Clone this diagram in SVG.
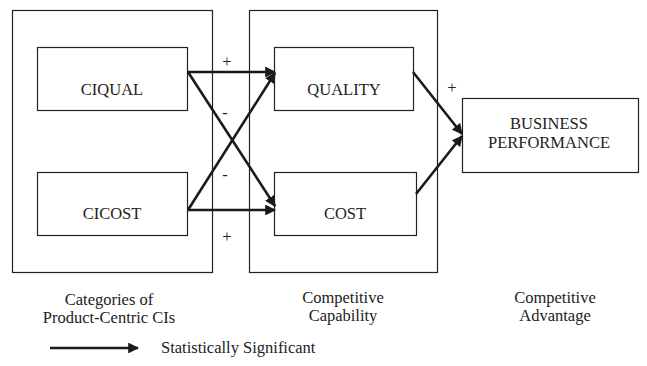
<svg xmlns="http://www.w3.org/2000/svg" width="647" height="366" viewBox="0 0 647 366">
<style>
.box{fill:none;stroke:#222;stroke-width:1.2}
.t{font-family:'Liberation Serif','Times New Roman','DejaVu Serif',serif;font-size:16.5px;fill:#222;text-anchor:middle}
.c{stroke:#1a1a1a;stroke-width:2.6;fill:none;marker-end:url(#ah)}
</style>
<defs>
<marker id="ah" viewBox="0 0 10 10" refX="9" refY="5" markerWidth="4.2" markerHeight="4.2" markerUnits="strokeWidth" orient="auto">
<path d="M0,0 L10,5 L0,10 z" fill="#1a1a1a"/>
</marker>
</defs>
<rect width="647" height="366" fill="#fff"/>
<g id="group-categories">
<rect class="box" x="12.5" y="10.5" width="200" height="262"/>
<text class="t" x="109" y="305">Categories of</text>
<text class="t" x="109" y="323">Product-Centric CIs</text>
</g>
<g id="group-capability">
<rect class="box" x="249.5" y="10.5" width="188" height="262"/>
<text class="t" x="343" y="303">Competitive</text>
<text class="t" x="343" y="321">Capability</text>
</g>
<g id="group-advantage">
<text class="t" x="555" y="303">Competitive</text>
<text class="t" x="555" y="321">Advantage</text>
</g>
<g id="ciqual">
<rect class="box" x="37.5" y="47.5" width="150" height="63"/>
<text class="t" x="112" y="95">CIQUAL</text>
</g>
<g id="cicost">
<rect class="box" x="37.5" y="172.5" width="150" height="63"/>
<text class="t" x="112" y="219">CICOST</text>
</g>
<g id="quality">
<rect class="box" x="274.5" y="47.5" width="139" height="63"/>
<text class="t" x="344" y="95">QUALITY</text>
</g>
<g id="cost">
<rect class="box" x="274.5" y="172.5" width="142" height="63"/>
<text class="t" x="345" y="219">COST</text>
</g>
<g id="business">
<rect class="box" x="462.5" y="98.5" width="176" height="74"/>
<text class="t" x="549" y="129">BUSINESS</text>
<text class="t" x="549" y="148">PERFORMANCE</text>
</g>
<g id="connectors">
<line class="c" x1="188" y1="72" x2="275" y2="72"/>
<line class="c" x1="188" y1="72" x2="275" y2="206"/>
<line class="c" x1="188" y1="210" x2="275" y2="73"/>
<line class="c" x1="188" y1="210" x2="275" y2="210"/>
<line class="c" x1="413" y1="72" x2="462" y2="134"/>
<line class="c" x1="416" y1="194" x2="462" y2="136"/>
</g>
<g id="labels">
<text class="t" x="227" y="67">+</text>
<text class="t" x="225" y="118">-</text>
<text class="t" x="225" y="180">-</text>
<text class="t" x="227" y="242">+</text>
<text class="t" x="452" y="93">+</text>
</g>
<g id="legend">
<line class="c" x1="50" y1="348" x2="138" y2="348"/>
<text class="t" x="161" y="353" style="text-anchor:start">Statistically Significant</text>
</g>
</svg>
